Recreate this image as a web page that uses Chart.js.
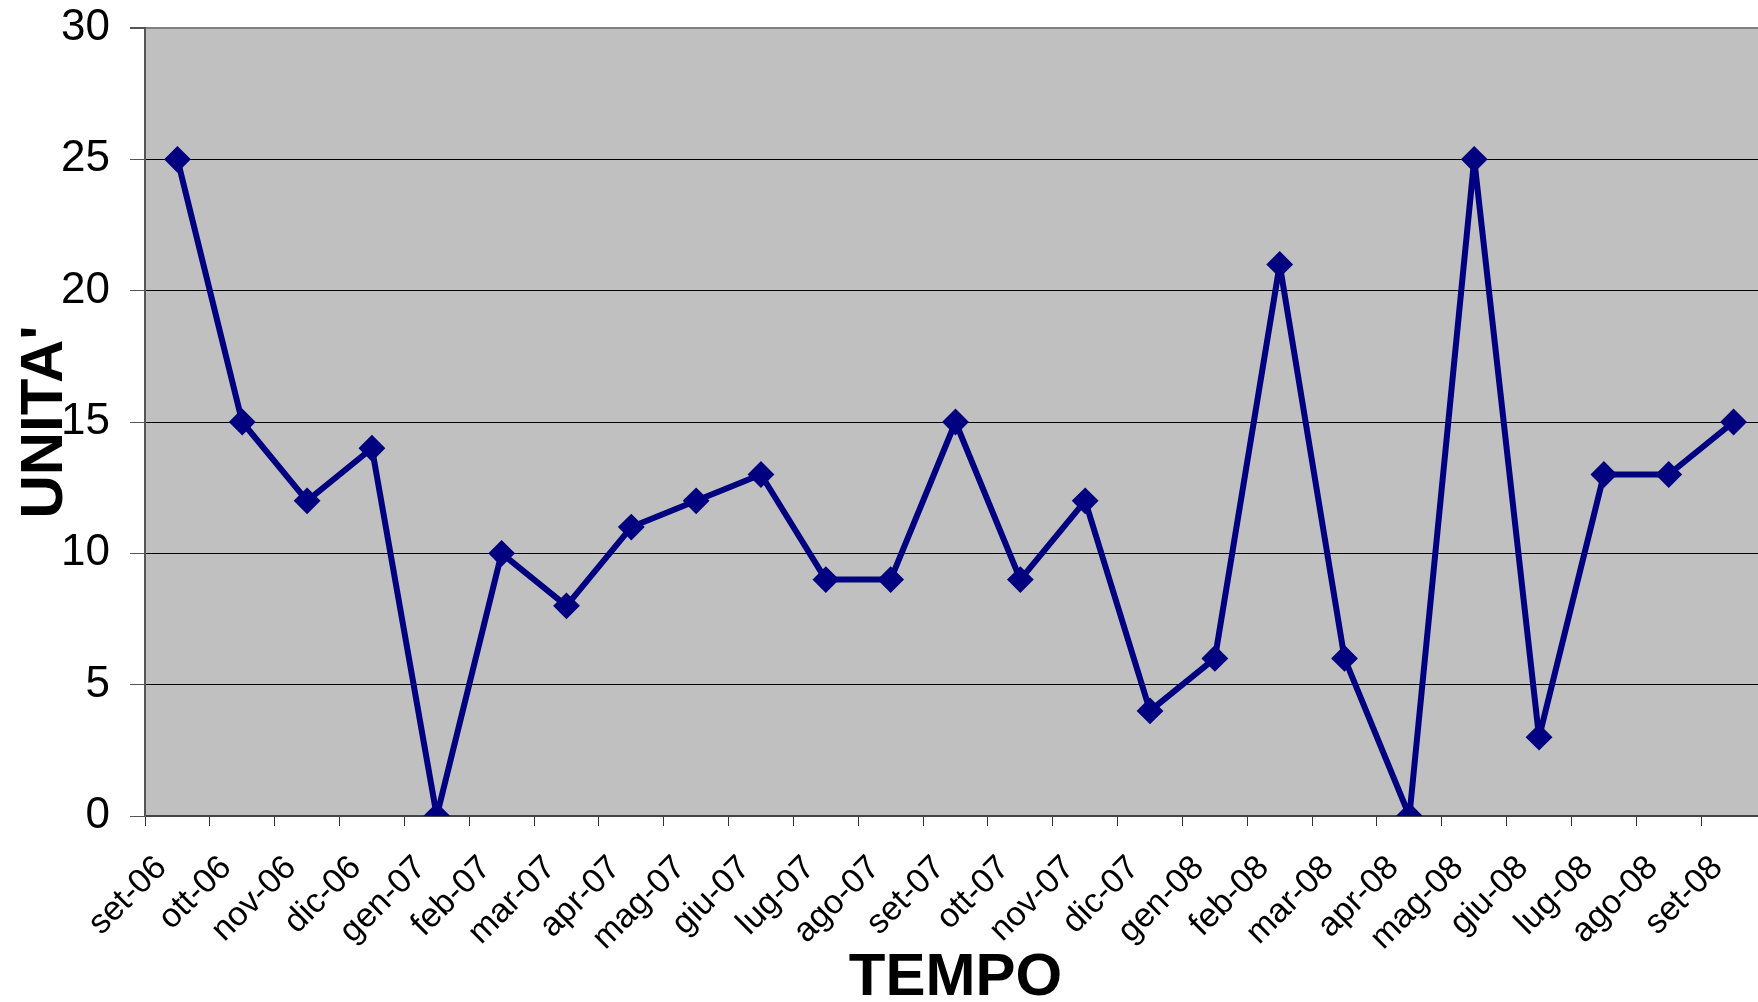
<!DOCTYPE html>
<html>
<head>
<meta charset="utf-8">
<script src="https://cdn.jsdelivr.net/npm/chart.js@4"></script>
<style>
    html, body { margin: 0; padding: 0; background: #fff; overflow: hidden; }
    canvas { display: block; }
</style>
</head>
<body>
<canvas id="UnitaChart" width="1766" height="1002"></canvas>
<script>
const mesi = ["set-06", "ott-06", "nov-06", "dic-06", "gen-07", "feb-07", "mar-07", "apr-07",
    "mag-07", "giu-07", "lug-07", "ago-07", "set-07", "ott-07", "nov-07", "dic-07",
    "gen-08", "feb-08", "mar-08", "apr-08", "mag-08", "giu-08", "lug-08", "ago-08", "set-08"];
const unita = [25, 15, 12, 14, 0, 10, 8, 11, 12, 13, 9, 9, 15, 9, 12, 4, 6, 21, 6, 0, 25, 3, 13, 13, 15];
const yMin = 0;
const yMax = 30;
const yStep = 5;

// grey plot background like the old excel charts
const plotBackground = {
    id: "plotBackground",
    beforeDraw(chart) {
        const { ctx, chartArea } = chart;
        ctx.save();
        ctx.fillStyle = "#C0C0C0";
        ctx.fillRect(chartArea.left, chartArea.top, chartArea.right - chartArea.left, chartArea.bottom - chartArea.top);
        ctx.restore();
    },
};

function UnitaChart() {
    const ctx = document.getElementById("UnitaChart");

    new Chart(ctx, {
        type: "line",
        data: {
            labels: mesi,
            datasets: [
                {
                    label: "Unita'",
                    data: unita,
                    borderColor: "#000080",
                    backgroundColor: "#000080",
                    borderWidth: 6,
                    borderJoinStyle: "bevel",
                    tension: 0,
                    pointStyle: "rectRot",
                    pointRadius: 12,
                    pointBorderWidth: 2,
                    pointBackgroundColor: "#000080",
                    pointBorderColor: "#000080",
                },
            ],
        },
        options: {
            responsive: false,
            animation: false,
            layout: {
                autoPadding: false, // plot runs off the right edge, like the original
                padding: { top: 28, right: 0, left: 0, bottom: 0 },
            },
            scales: {
                x: {
                    offset: true,
                    afterFit: (scale) => {
                        scale.height = 186;
                        scale.paddingLeft = 0;
                        scale.paddingRight = 0;
                    },
                    border: { color: "#444", width: 2 },
                    grid: {
                        offset: true,
                        drawOnChartArea: false,
                        drawTicks: true,
                        tickLength: 10,
                        tickColor: "#333",
                    },
                    ticks: {
                        autoSkip: false,
                        maxRotation: 45,
                        minRotation: 45,
                        padding: 22,
                        labelOffset: -16,
                        color: "#000",
                        font: { family: "'Liberation Sans', Arial", size: 34 },
                    },
                    title: {
                        display: true,
                        text: "TEMPO",
                        color: "#000",
                        padding: { top: 0, bottom: 0 },
                        font: { family: "'Liberation Sans', Arial", size: 60, weight: "bold", lineHeight: 0.8 },
                    },
                },
                y: {
                    min: yMin,
                    max: yMax,
                    afterFit: (scale) => {
                        scale.width = 145;
                        scale.paddingTop = 0;
                        scale.paddingBottom = 0;
                    },
                    border: { color: "#555", width: 2 },
                    grid: {
                        color: (c) => (c.tick && c.tick.value === yMax ? "#808080" : "#000"),
                        lineWidth: (c) => (c.tick && c.tick.value === yMax ? 2 : 1),
                        tickLength: 15,
                        tickColor: "#555",
                    },
                    ticks: {
                        stepSize: yStep,
                        padding: 20,
                        color: "#000",
                        font: { family: "'Liberation Sans', Arial", size: 44 },
                    },
                    title: {
                        display: true,
                        text: "UNITA'",
                        color: "#000",
                        padding: { top: 9, bottom: 0 },
                        font: { family: "'Liberation Sans', Arial", size: 60, weight: "bold" },
                    },
                },
            },
            plugins: {
                legend: { display: false },
                tooltip: { enabled: false },
            },
        },
        plugins: [plotBackground],
    });
}

UnitaChart()
</script>
</body>
</html>
